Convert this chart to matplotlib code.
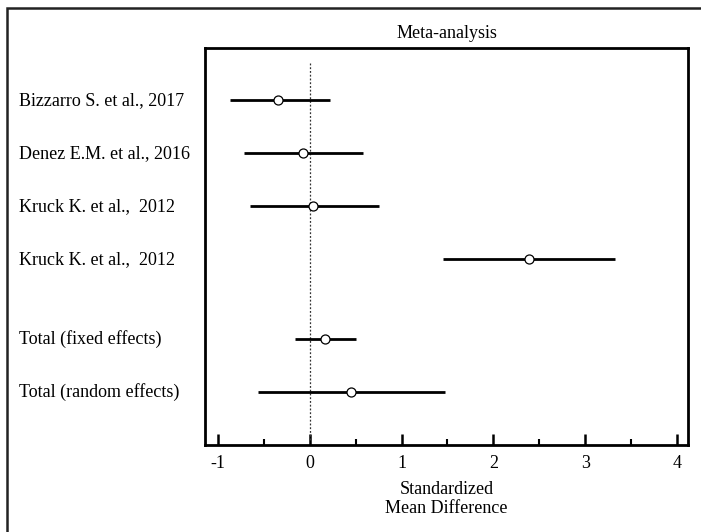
#!/usr/bin/env python

'''
plot.py: forest plot of standardized mean differences (meta-analysis)
'''

import matplotlib
matplotlib.use("Agg")
import matplotlib.pyplot as plt
from matplotlib.patches import Rectangle
import matplotlib.transforms as mtransforms

# study labels, effect sizes and 95% CIs
studies = ["Bizzarro S. et al., 2017",
           "Denez E.M. et al., 2016",
           "Kruck K. et al.,  2012",
           "Kruck K. et al.,  2012",
           "Total (fixed effects)",
           "Total (random effects)"]
rows = [0, 1, 2, 3, 4.5, 5.5]
smd = [-0.34, -0.07, 0.04, 2.39, 0.17, 0.45]
ci_low = [-0.87, -0.71, -0.65, 1.45, -0.16, -0.56]
ci_high = [0.22, 0.58, 0.75, 3.33, 0.50, 1.47]

xticks = [-1, 0, 1, 2, 3, 4]


def main():

    plt.rcParams['font.family'] = ['Liberation Serif', 'DejaVu Serif']
    plt.rcParams['font.size'] = 13

    fig = plt.figure(figsize=(7.01, 5.32), dpi=100)
    ax = fig.add_axes([205/701, 1 - 445/532, (688-205)/701, (445-48)/532])

    # outer frame, only left and top edges show in the original
    fig.patches.append(Rectangle((7/701, -0.1), 1.2, 1 - 8/532 + 0.1,
                                 transform=fig.transFigure, fill=False,
                                 edgecolor='#222222', lw=1.8))

    # no-effect line
    ax.plot([0, 0], [-0.7, 6.4], linestyle=(0, (1.5, 1.5)), color='#333333', lw=0.9)

    for y, m, lo, hi in zip(rows, smd, ci_low, ci_high):
        ax.plot([lo, hi], [y, y], color='black', lw=2.0, solid_capstyle='butt')
        ax.plot(m, y, 'o', markersize=6.5, markerfacecolor='white',
                markeredgecolor='black', markeredgewidth=0.9)

    ax.set_xlim(-1.14, 4.12)
    ax.set_ylim(6.5, -0.99)

    ax.set_xticks(xticks)
    ax.set_xticks([-0.5, 0.5, 1.5, 2.5, 3.5], minor=True)
    ax.tick_params(axis='x', which='major', direction='in', length=8, width=1.8,
                   pad=7, labelsize=13)
    ax.tick_params(axis='x', which='minor', direction='in', length=4, width=1.5)
    ax.set_xticklabels(["-1", "0", "1", "2", "3", "4"])
    ax.set_yticks([])

    for spine in ax.spines.values():
        spine.set_linewidth(2.0)

    ax.set_title("Meta-analysis", fontsize=13, pad=7)
    ax.set_xlabel("Standardized\nMean Difference", fontsize=13,
                  linespacing=1.1, labelpad=7)

    # study names sit at the left edge of the figure
    trans = mtransforms.blended_transform_factory(fig.transFigure, ax.transData)
    for y, name in zip(rows, studies):
        ax.text(19/701, y, name, transform=trans, ha='left', va='center', fontsize=13)

    fig.savefig("out.png", dpi=100)
    plt.close()


if __name__ == '__main__':
    main()
